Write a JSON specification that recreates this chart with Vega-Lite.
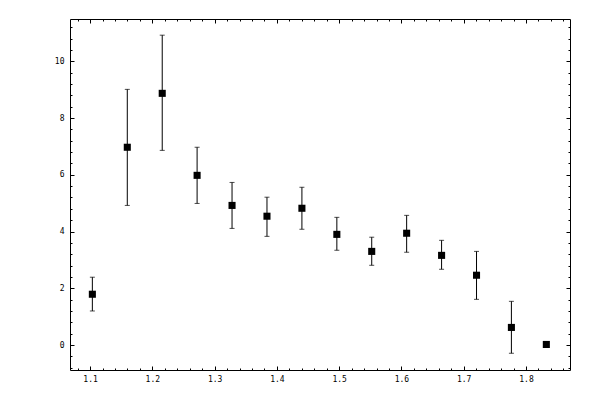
{
  "$schema": "https://vega.github.io/schema/vega-lite/v6.json",
  "width": 500,
  "height": 351,
  "autosize": "none",
  "padding": {"left": 70, "top": 19, "right": 30, "bottom": 30},
  "background": "white",
  "view": {"stroke": "black", "strokeWidth": 1},
  "config": {
    "axis": {
      "domain": false,
      "grid": false,
      "tickColor": "black",
      "tickWidth": 1,
      "labelFont": "DejaVu Sans Mono",
      "labelFontSize": 8,
      "labelColor": "#000000",
      "title": null
    }
  },
  "data": {
    "values": [
      {"x": 1.1037, "y": 1.79, "lo": 1.20, "hi": 2.39},
      {"x": 1.1598, "y": 6.97, "lo": 4.92, "hi": 9.01},
      {"x": 1.2159, "y": 8.87, "lo": 6.86, "hi": 10.92},
      {"x": 1.2719, "y": 5.98, "lo": 4.99, "hi": 6.97},
      {"x": 1.3280, "y": 4.92, "lo": 4.11, "hi": 5.73},
      {"x": 1.3841, "y": 4.54, "lo": 3.83, "hi": 5.21},
      {"x": 1.4402, "y": 4.82, "lo": 4.08, "hi": 5.56},
      {"x": 1.4963, "y": 3.90, "lo": 3.34, "hi": 4.50},
      {"x": 1.5523, "y": 3.30, "lo": 2.81, "hi": 3.80},
      {"x": 1.6084, "y": 3.94, "lo": 3.27, "hi": 4.57},
      {"x": 1.6645, "y": 3.16, "lo": 2.67, "hi": 3.69},
      {"x": 1.7206, "y": 2.46, "lo": 1.61, "hi": 3.30},
      {"x": 1.7766, "y": 0.62, "lo": -0.29, "hi": 1.54},
      {"x": 1.8327, "y": 0.02, "lo": null, "hi": null}
    ]
  },
  "resolve": {"axis": {"x": "independent", "y": "independent"}},
  "layer": [
    {
      "mark": {"type": "rule", "color": "black", "strokeWidth": 1},
      "encoding": {
        "x": {
          "field": "x", "type": "quantitative",
          "scale": {"domain": [1.0678, 1.8707], "nice": false, "zero": false},
          "axis": {"orient": "bottom", "values": [1.1, 1.2, 1.3, 1.4, 1.5, 1.6, 1.7, 1.8], "tickSize": -4, "labelPadding": 9, "format": ".1f"}
        },
        "y": {
          "field": "lo", "type": "quantitative",
          "scale": {"domain": [-0.88, 11.49], "nice": false, "zero": false},
          "axis": {"orient": "left", "values": [0, 2, 4, 6, 8, 10], "tickSize": -4, "labelPadding": 10, "format": "d"}
        },
        "y2": {"field": "hi"}
      }
    },
    {
      "mark": {"type": "tick", "orient": "horizontal", "color": "black", "size": 5, "thickness": 1},
      "encoding": {
        "x": {
          "field": "x", "type": "quantitative",
          "axis": {"orient": "bottom", "values": [1.08, 1.1, 1.12, 1.14, 1.16, 1.18, 1.2, 1.22, 1.24, 1.26, 1.28, 1.3, 1.32, 1.34, 1.36, 1.38, 1.4, 1.42, 1.44, 1.46, 1.48, 1.5, 1.52, 1.54, 1.56, 1.58, 1.6, 1.62, 1.64, 1.66, 1.68, 1.7, 1.72, 1.74, 1.76, 1.78, 1.8, 1.82, 1.84, 1.86], "tickSize": -2, "labels": false}
        },
        "y": {
          "field": "lo", "type": "quantitative",
          "axis": {"orient": "left", "values": [-0.8, -0.4, 0, 0.4, 0.8, 1.2, 1.6, 2, 2.4, 2.8, 3.2, 3.6, 4, 4.4, 4.8, 5.2, 5.6, 6, 6.4, 6.8, 7.2, 7.6, 8, 8.4, 8.8, 9.2, 9.6, 10, 10.4, 10.8, 11.2], "tickSize": -2, "labels": false}
        }
      }
    },
    {
      "mark": {"type": "tick", "orient": "horizontal", "color": "black", "size": 5, "thickness": 1},
      "encoding": {
        "x": {
          "field": "x", "type": "quantitative",
          "axis": {"orient": "top", "values": [1.1, 1.2, 1.3, 1.4, 1.5, 1.6, 1.7, 1.8], "tickSize": -4, "labels": false}
        },
        "y": {
          "field": "hi", "type": "quantitative",
          "axis": {"orient": "right", "values": [0, 2, 4, 6, 8, 10], "tickSize": -4, "labels": false}
        }
      }
    },
    {
      "mark": {"type": "square", "color": "black", "filled": true, "opacity": 1, "size": 50},
      "encoding": {
        "x": {
          "field": "x", "type": "quantitative",
          "axis": {"orient": "top", "values": [1.08, 1.1, 1.12, 1.14, 1.16, 1.18, 1.2, 1.22, 1.24, 1.26, 1.28, 1.3, 1.32, 1.34, 1.36, 1.38, 1.4, 1.42, 1.44, 1.46, 1.48, 1.5, 1.52, 1.54, 1.56, 1.58, 1.6, 1.62, 1.64, 1.66, 1.68, 1.7, 1.72, 1.74, 1.76, 1.78, 1.8, 1.82, 1.84, 1.86], "tickSize": -2, "labels": false}
        },
        "y": {
          "field": "y", "type": "quantitative",
          "axis": {"orient": "right", "values": [-0.8, -0.4, 0, 0.4, 0.8, 1.2, 1.6, 2, 2.4, 2.8, 3.2, 3.6, 4, 4.4, 4.8, 5.2, 5.6, 6, 6.4, 6.8, 7.2, 7.6, 8, 8.4, 8.8, 9.2, 9.6, 10, 10.4, 10.8, 11.2], "tickSize": -2, "labels": false}
        }
      }
    }
  ]
}
